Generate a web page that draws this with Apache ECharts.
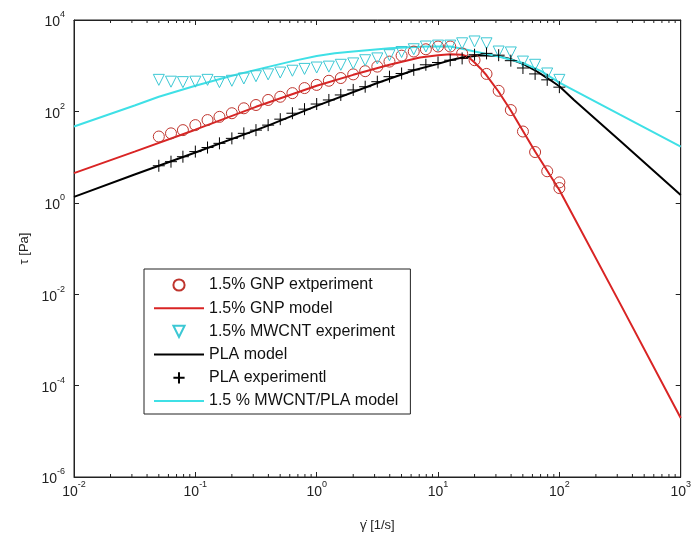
<!DOCTYPE html>
<html>
<head>
<meta charset="utf-8">
<script src="https://cdn.jsdelivr.net/npm/echarts@6/dist/echarts.min.js"></script>
<style>
html, body { margin: 0; padding: 0; background: #fff; }
#chart { width: 694px; height: 538px; }
</style>
</head>
<body>
<div id="chart"></div>
<script>
// shear rate of the measured points [1/s]
var expRate = [0.05, 0.063, 0.079, 0.1, 0.126, 0.158, 0.2, 0.251, 0.316, 0.398, 0.501, 0.631, 0.794, 1,
  1.26, 1.58, 2, 2.51, 3.16, 3.98, 5.01, 6.31, 7.94, 10, 12.6, 15.8, 20, 25.1, 31.6, 39.8, 50.1, 63.1, 79.4, 100];
var gnpExpRate = expRate.concat([100]);

// measured stress [Pa]
var gnpExp = [28.2, 33.1, 38.9, 50.1, 64.6, 75.9, 91.2, 117, 138, 178, 209, 251, 324, 380,
  468, 537, 646, 759, 955, 1230, 1660, 2040, 2290, 2630, 2630,
  1860, 1320, 661, 282, 107, 36.3, 12.9, 4.9, 2.8, 2.1];
var mwcntExp = [490, 447, 437, 447, 490, 437, 468, 525, 589, 646, 708, 776, 851, 912,
  955, 1047, 1122, 1318, 1445, 1698, 1995, 2291, 2630, 2754, 2754,
  3090, 3388, 3090, 2042, 1950, 1230, 1047, 676, 490];
var plaExp = [6.46, 7.94, 10.2, 13.2, 16.2, 20.0, 25.7, 33.1, 38.9, 50.1, 67.6, 91.2, 112, 145,
  178, 229, 295, 347, 447, 575, 676, 813, 1047, 1175, 1318,
  1445, 1738, 1862, 1698, 1288, 891, 661, 490, 339];

// model curves
var gnpModelRate = [0.01, 0.0316, 0.1, 0.316, 1, 2, 3.98, 7.08, 10, 12.6, 15.8, 17.8, 20, 22.4, 25.1, 31.6, 39.8, 63.1, 100, 316, 1000];
var gnpModel = [4.47, 13.2, 39.8, 126, 363, 631, 1047, 1514, 1698, 1778, 1738, 1549, 1175, 871, 617, 269, 105, 13.2, 1.91, 0.0063, 1.95e-5];

var plaModelRate = [0.01, 0.0316, 0.05, 0.1, 0.316, 0.407, 1, 3.16, 6.31, 10, 12.6, 15.8, 22.4, 31.6, 39.8, 50.1, 63.1, 79.4, 100, 132, 316, 1000];
var plaModel = [1.35, 4.17, 6.46, 12.6, 38.9, 50.1, 132, 417, 794, 1096, 1318, 1514, 1698, 1622, 1380, 1096, 794, 537, 355, 178, 22.9, 1.48];

var mwcntModelRate = [0.01, 0.0316, 0.05, 0.1, 0.2, 0.407, 0.631, 1, 1.41, 2, 3.98, 7.94, 12.6, 15.8, 20, 31.6, 50.1, 70.8, 100, 316, 1000];
var mwcntModel = [46.8, 135, 209, 363, 603, 955, 1259, 1622, 1862, 2042, 2399, 2630, 2630, 2344, 2042, 1585, 1148, 759, 427, 85.1, 17.0];

// minor ticks of the log x axis
var minorTickX = [0.02, 0.03, 0.04, 0.05, 0.06, 0.07, 0.08, 0.09,
  0.2, 0.3, 0.4, 0.5, 0.6, 0.7, 0.8, 0.9,
  2, 3, 4, 5, 6, 7, 8, 9,
  20, 30, 40, 50, 60, 70, 80, 90,
  200, 300, 400, 500, 600, 700, 800, 900];

var X_MIN = 0.01, X_MAX = 1000, Y_MIN = 1e-6, Y_MAX = 1e4;
var FONT = '"Liberation Sans", Arial, sans-serif';

function pairs(xs, ys) {
  var out = [];
  for (var i = 0; i < ys.length; i++) out.push([xs[i], ys[i]]);
  return out;
}

// 10^n labels
function powLabel(v) {
  var e = Math.round(Math.log(v) / Math.LN10);
  return '{b|10}{s|' + e + '}';
}
var powRich = {
  b: { fontSize: 14, fontFamily: FONT, color: '#222', verticalAlign: 'bottom', lineHeight: 19 },
  s: { fontSize: 9, fontFamily: FONT, color: '#222', verticalAlign: 'top', lineHeight: 19 }
};

var chart = echarts.init(document.getElementById('chart'));

var lineModel = function(name, xs, ys, color) {
  return {
    name: name, type: 'line', data: pairs(xs, ys),
    symbol: 'none', smooth: false,
    lineStyle: { color: color, width: 2 },
    itemStyle: { color: color },
    z: 3, animation: false
  };
};
var markers = function(name, xs, ys, symbol, size, color, rotate) {
  return {
    name: name, type: 'line', data: pairs(xs, ys),
    symbol: symbol, symbolSize: size, symbolRotate: rotate || 0,
    showSymbol: true, showAllSymbol: true,
    lineStyle: { opacity: 0 },
    itemStyle: { color: 'rgba(255,255,255,0)', borderColor: color, borderWidth: 1 },
    z: 4, animation: false
  };
};

var option = {
  backgroundColor: '#fff',
  animation: false,
  grid: { left: 74, right: 10, top: 20, bottom: 61, show: true, borderColor: '#222', borderWidth: 1, backgroundColor: '#fff' },
  legend: {
    orient: 'vertical', left: 144, top: 269,
    backgroundColor: '#fff', borderColor: '#222', borderWidth: 1, borderRadius: 0,
    padding: [8, 12, 5, 9],
    itemWidth: 50, itemHeight: 14, itemGap: 7.2,
    textStyle: { fontFamily: FONT, fontSize: 16, color: '#111' },
    data: [
      { name: '1.5% GNP extperiment' },
      { name: '1.5% GNP model', itemStyle: { opacity: 0 } },
      { name: '1.5% MWCNT experiment' },
      { name: 'PLA model', itemStyle: { opacity: 0 } },
      { name: 'PLA experimentl' },
      { name: '1.5 % MWCNT/PLA model', itemStyle: { opacity: 0 } }
    ]
  },
  xAxis: [{
    type: 'log', logBase: 10, min: X_MIN, max: X_MAX, interval: 1,
    name: 'γ̇ [1/s]', nameLocation: 'middle', nameGap: 42,
    nameTextStyle: { fontFamily: FONT, fontSize: 13, color: '#222' },
    axisLine: { lineStyle: { color: '#222' } },
    axisTick: { inside: true, length: 5, lineStyle: { color: '#222' } },
    axisLabel: { formatter: powLabel, rich: powRich, margin: 3, showMaxLabel: true, showMinLabel: true },
    splitLine: { show: false }
  }, {
    type: 'log', logBase: 10, min: X_MIN, max: X_MAX, interval: 1, position: 'top',
    axisLine: { lineStyle: { color: '#222' } },
    axisTick: { inside: true, length: 5, lineStyle: { color: '#222' } },
    axisLabel: { show: false }, splitLine: { show: false }
  }],
  yAxis: [{
    type: 'log', logBase: 10, min: Y_MIN, max: Y_MAX, interval: 2,
    name: 'τ [Pa]', nameLocation: 'middle', nameGap: 42,
    nameTextStyle: { fontFamily: FONT, fontSize: 13, color: '#222' },
    axisLine: { show: true, lineStyle: { color: '#222' } },
    axisTick: { show: true, inside: true, length: 5, lineStyle: { color: '#222' } },
    axisLabel: { formatter: powLabel, rich: powRich, margin: 9 },
    splitLine: { show: false }
  }, {
    type: 'log', logBase: 10, min: Y_MIN, max: Y_MAX, interval: 2, position: 'right',
    axisLine: { show: true, lineStyle: { color: '#222' } },
    axisTick: { show: true, inside: true, length: 5, lineStyle: { color: '#222' } },
    axisLabel: { show: false }, splitLine: { show: false }
  }],
  series: [
    markers('1.5% GNP extperiment', gnpExpRate, gnpExp, 'circle', 11, '#bf352e'),
    lineModel('1.5% GNP model', gnpModelRate, gnpModel, '#d92424'),
    markers('1.5% MWCNT experiment', expRate, mwcntExp, 'triangle', 11, '#3cc8d4', 180),
    lineModel('PLA model', plaModelRate, plaModel, '#000000'),
    markers('PLA experimentl', expRate, plaExp, 'path://M5,0L5,10M0,5L10,5', 12, '#000000'),
    lineModel('1.5 % MWCNT/PLA model', mwcntModelRate, mwcntModel, '#3fe0e6'),
    {
      type: 'custom', silent: true, z: 2,
      data: minorTickX.map(function(v) { return [v, Y_MIN]; }),
      encode: { x: 0, y: 1 },
      renderItem: function(params, api) {
        var x = api.value(0);
        var b = api.coord([x, Y_MIN]);
        var t = api.coord([x, Y_MAX]);
        return {
          type: 'group',
          children: [
            { type: 'line', shape: { x1: b[0], y1: b[1], x2: b[0], y2: b[1] - 3 }, style: { stroke: '#222', lineWidth: 1 } },
            { type: 'line', shape: { x1: t[0], y1: t[1], x2: t[0], y2: t[1] + 3 }, style: { stroke: '#222', lineWidth: 1 } }
          ]
        };
      }
    }
  ]
};
chart.setOption(option);
</script>
</body>
</html>
